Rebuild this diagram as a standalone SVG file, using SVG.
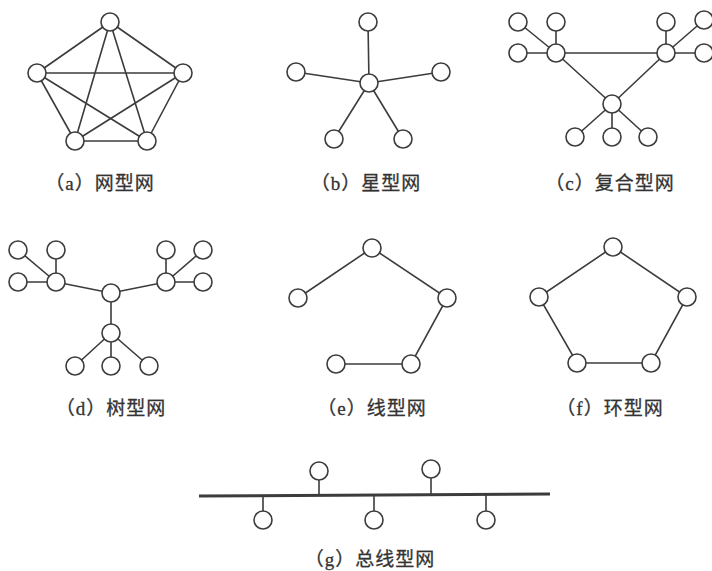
<svg xmlns="http://www.w3.org/2000/svg" width="712" height="571" viewBox="0 0 712 571">
<style>
.e{stroke:#3c3c3c;stroke-width:1.6;fill:none}
.bus{stroke:#3c3c3c;stroke-width:3;fill:none}
.n{fill:#fff;stroke:#3c3c3c;stroke-width:1.6}
.lbl{font-family:"Liberation Serif","Noto Sans CJK SC",serif;font-size:19px;fill:#333;stroke:#333;stroke-width:0.3;text-anchor:middle;letter-spacing:1px}
</style>
<defs><circle id="c" r="9"/></defs>
<rect width="712" height="571" fill="#fff"/>
<g id="connectors">
<!-- a mesh -->
<path class="e" d="M110 22L37 73M110 22L183 73M110 22L75 141M110 22L147 141M37 73L183 73M37 73L75 141M37 73L147 141M183 73L75 141M183 73L147 141M75 141L147 141"/>
<!-- b star -->
<path class="e" d="M369 83L368 22M369 83L296 72M369 83L441 72M369 83L334 139M369 83L403 139"/>
<!-- c composite -->
<path class="e" d="M556 53L518 22M556 53L556 22M556 53L518 53M556 53L666 53M556 53L612 104M666 53L612 104M666 53L666 22M666 53L704 20M666 53L704 53M612 104L575 137M612 104L612 137M612 104L648 137"/>
<!-- d tree -->
<path class="e" d="M111 293L56 282M111 293L166 282M111 293L111 333M56 282L18 250M56 282L56 250M56 282L18 282M166 282L166 250M166 282L203 250M166 282L203 282M111 333L75 366M111 333L111 366M111 333L149 366"/>
<!-- e line -->
<path class="e" d="M298 298L372 248L447 298L411 364L336 364"/>
<!-- f ring -->
<path class="e" d="M613 247L687 297L651 363L577 363L539 297Z"/>
<!-- g bus -->
<path class="bus" d="M199 496L550 494"/>
<path class="e" d="M319 480V495M431 478V494M263 497V511M374 496V511M486 495V511"/>
</g>
<g id="mesh" class="n">
<use href="#c" x="110" y="22"/><use href="#c" x="37" y="73"/><use href="#c" x="183" y="73"/><use href="#c" x="75" y="141"/><use href="#c" x="147" y="141"/>
</g>
<g id="star" class="n">
<use href="#c" x="368" y="22"/><use href="#c" x="296" y="72"/><use href="#c" x="441" y="72"/><use href="#c" x="369" y="83"/><use href="#c" x="334" y="139"/><use href="#c" x="403" y="139"/>
</g>
<g id="composite" class="n">
<use href="#c" x="518" y="22"/><use href="#c" x="556" y="22"/><use href="#c" x="518" y="53"/><use href="#c" x="556" y="53"/>
<use href="#c" x="666" y="22"/><use href="#c" x="704" y="20"/><use href="#c" x="704" y="53"/><use href="#c" x="666" y="53"/>
<use href="#c" x="612" y="104"/><use href="#c" x="575" y="137"/><use href="#c" x="612" y="137"/><use href="#c" x="648" y="137"/>
</g>
<g id="tree" class="n">
<use href="#c" x="111" y="293"/><use href="#c" x="56" y="282"/><use href="#c" x="166" y="282"/><use href="#c" x="111" y="333"/>
<use href="#c" x="18" y="250"/><use href="#c" x="56" y="250"/><use href="#c" x="18" y="282"/>
<use href="#c" x="166" y="250"/><use href="#c" x="203" y="250"/><use href="#c" x="203" y="282"/>
<use href="#c" x="75" y="366"/><use href="#c" x="111" y="366"/><use href="#c" x="149" y="366"/>
</g>
<g id="linear" class="n">
<use href="#c" x="372" y="248"/><use href="#c" x="298" y="298"/><use href="#c" x="447" y="298"/><use href="#c" x="411" y="364"/><use href="#c" x="336" y="364"/>
</g>
<g id="ring" class="n">
<use href="#c" x="613" y="247"/><use href="#c" x="539" y="297"/><use href="#c" x="687" y="297"/><use href="#c" x="577" y="363"/><use href="#c" x="651" y="363"/>
</g>
<g id="bus" class="n">
<use href="#c" x="319" y="471"/><use href="#c" x="431" y="469"/><use href="#c" x="263" y="520"/><use href="#c" x="374" y="520"/><use href="#c" x="486" y="520"/>
</g>
<g id="labels">
<text class="lbl" x="100" y="190">（a）网型网</text>
<text class="lbl" x="366" y="190">（b）星型网</text>
<text class="lbl" x="610" y="190">（c）复合型网</text>
<text class="lbl" x="111" y="415">（d）树型网</text>
<text class="lbl" x="372" y="415">（e）线型网</text>
<text class="lbl" x="610" y="415">（f）环型网</text>
<text class="lbl" x="370" y="566">（g）总线型网</text>
</g>
</svg>
